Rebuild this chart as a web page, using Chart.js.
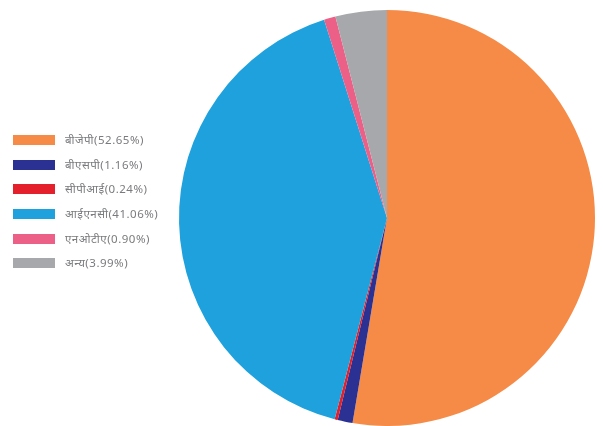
<!DOCTYPE html>
<html>
<head>
<meta charset="utf-8">
<script src="https://cdn.jsdelivr.net/npm/chart.js@4"></script>
<style>
  html, body { margin: 0; padding: 0; background: #fff; }
  #wrap { position: relative; width: 603px; height: 426px; }
  #legend { position: absolute; left: 13px; top: 134px; font-family: "Noto Sans", "Lato", sans-serif; font-size: 11.5px; letter-spacing: 0.5px; color: #7a7b7e; }
  #legend div { height: 24.7px; display: flex; align-items: flex-start; }
  #legend span.box { display: inline-block; width: 42px; height: 10px; margin-right: 10px; margin-top: 1px; }
  #legend span.txt { line-height: 12px; white-space: nowrap; }
</style>
</head>
<body>
<div id="wrap">
  <canvas id="pie" width="603" height="426"></canvas>
  <div id="legend"></div>
</div>
<script>
// party names and vote share (%)
const parties = ['बीजेपी', 'बीएसपी', 'सीपीआई', 'आईएनसी', 'एनओटीए', 'अन्य'];
const shares = [52.65, 1.16, 0.24, 41.06, 0.90, 3.99];
const colours = ['#f68b47', '#2b3192', '#e3202b', '#1ea1dc', '#ec6088', '#a6a8ab'];

const labels = parties.map((p, i) => `${p}(${shares[i].toFixed(2)}%)`);

const ctx = document.getElementById('pie').getContext('2d');
new Chart(ctx, {
    type: 'pie',
    data: {
        labels,
        datasets: [{
            data: shares,
            backgroundColor: colours,
            borderWidth: 0
        }]
    },
    options: {
        responsive: false,
        animation: false,
        layout: { padding: { left: 179, right: 8, top: 10, bottom: 0 } },
        plugins: {
            legend: { display: false },
            tooltip: { enabled: false }
        }
    }
});

// legend built from the same arrays
const legend = document.getElementById('legend');
labels.forEach((l, i) => {
    const row = document.createElement('div');
    row.innerHTML = `<span class="box" style="background:${colours[i]}"></span><span class="txt">${l}</span>`;
    legend.appendChild(row);
});
</script>
</body>
</html>
